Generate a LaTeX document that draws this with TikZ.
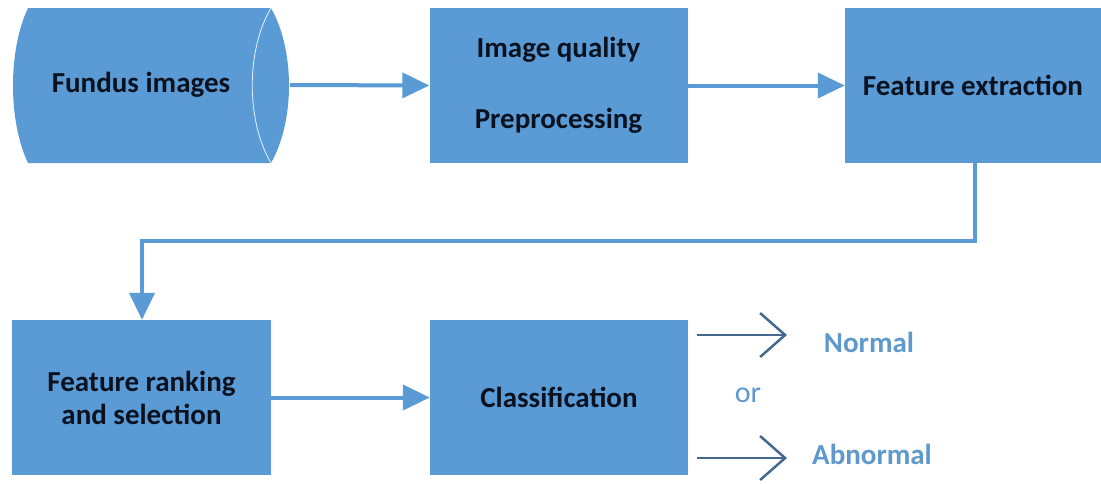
\documentclass[tikz,border=0pt]{standalone}
\usepackage{fontspec}
\setmainfont{Carlito}
\usetikzlibrary{arrows.meta}
\definecolor{boxblue}{HTML}{5B9BD5}
\definecolor{linkblue}{HTML}{5B9BD5}
\definecolor{outarrow}{HTML}{44698F}
\definecolor{outtext}{HTML}{5E98CD}
\definecolor{txt}{HTML}{0A1220}
\tikzset{
  procbox/.style={draw=none, fill=boxblue, minimum height=155pt, inner sep=0pt,
    font=\fontsize{29}{33}\selectfont\bfseries, text=txt, align=center},
  link/.style={draw=linkblue, line width=4pt, -{Triangle[length=27pt,width=25pt]}},
  outlink/.style={draw=outarrow, line width=2.5pt, -{Straight Barb[length=25pt,width=44pt,line width=2.5pt]}},
  outlabel/.style={font=\fontsize{29}{33}\selectfont\bfseries, text=outtext},
}
\begin{document}
\begin{tikzpicture}[x=1pt,y=-1pt]
\useasboundingbox (0,0) rectangle (1101,483);
% Fundus images (stored data shape)
\fill[boxblue] (28,8) -- (271,8) .. controls (295,50) and (295,121) .. (271,163)
  -- (28,163) .. controls (8,121) and (8,50) .. (28,8) -- cycle;
\draw[white!85!boxblue, line width=0.8pt] (271,8) .. controls (246,50) and (246,121) .. (271,163);
\node[font=\fontsize{29}{33}\selectfont\bfseries, text=txt] (fundus) at (141,85) {Fundus images};
\coordinate (fundusE) at (290,85);

\node[procbox, minimum width=258pt] (iq) at (558.5,85.5) {Image quality\\[38pt]Preprocessing};
\node[procbox, minimum width=256pt] (fe) at (973,85.5) {Feature extraction};
\node[procbox, minimum width=259pt] (fr) at (141.5,397.5) {Feature ranking\\and selection};
\node[procbox, minimum width=258pt] (cl) at (559,397.5) {Classification};

\draw[link] (fundusE) -- (iq.west);
\draw[link] (iq.east) -- (fe.west);
\coordinate (bendA) at (975,241);
\coordinate (bendB) at (142,241);
\draw[link] (fe.south -| bendA) -- (bendA) -- (bendB) -- (fr.north -| bendB);
\draw[link] (fr.east) -- (cl.west);

\coordinate (nStart) at (697,335);
\coordinate (nEnd) at (787,335);
\coordinate (aStart) at (697,458);
\coordinate (aEnd) at (787,458);
\draw[outlink] (nStart) -- (nEnd);
\draw[outlink] (aStart) -- (aEnd);
\node[outlabel] (normal) at (869,342) {Normal};
\node[outlabel] (abnormal) at (872,454) {Abnormal};
\node[font=\fontsize{30}{34}\selectfont, text=outtext] (or) at (748,395) {or};
\end{tikzpicture}
\end{document}
